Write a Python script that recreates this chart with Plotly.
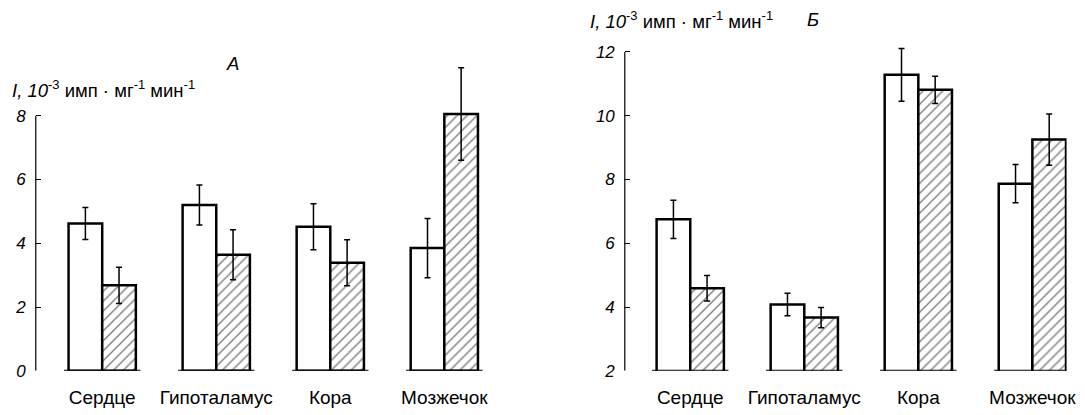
import plotly.graph_objects as go

categories = ["Сердце", "Гипоталамус", "Кора", "Мозжечок"]

# Panel A
a_ctrl = [4.62, 5.20, 4.52, 3.85]
a_ctrl_err = [0.50, 0.63, 0.72, 0.93]
a_exp = [2.68, 3.64, 3.39, 8.05]
a_exp_err = [0.57, 0.78, 0.72, 1.45]

# Panel B
b_ctrl = [6.75, 4.08, 11.28, 7.87]
b_ctrl_err = [0.60, 0.35, 0.83, 0.60]
b_exp = [4.59, 3.67, 10.81, 9.25]
b_exp_err = [0.40, 0.32, 0.43, 0.80]

a_ticks = [0, 2, 4, 6, 8]
b_ticks = [2, 4, 6, 8, 10, 12]

OFF = 8  # page body margin
W, H = 1085 - OFF, 415 - OFF
FONT = "Liberation Sans, Arial, sans-serif"

def px(x):
    return (x - OFF) / W

def py(y):
    return (H - (y - OFF)) / H

fig = go.Figure()

def add_pair(ctrl, ctrl_err, exp, exp_err, xa, ya):
    fig.add_trace(go.Bar(
        x=categories, y=ctrl, xaxis=xa, yaxis=ya,
        marker=dict(color="white", line=dict(color="black", width=2.5)),
        error_y=dict(type="data", array=ctrl_err, color="black", thickness=1.5, width=3),
        showlegend=False,
    ))
    fig.add_trace(go.Bar(
        x=categories, y=exp, xaxis=xa, yaxis=ya,
        marker=dict(color="white", line=dict(color="black", width=2.5),
                    pattern=dict(shape="/", fgcolor="black", bgcolor="white", size=7, solidity=0.2)),
        error_y=dict(type="data", array=exp_err, color="black", thickness=1.5, width=3),
        showlegend=False,
    ))

add_pair(a_ctrl, a_ctrl_err, a_exp, a_exp_err, "x", "y")
add_pair(b_ctrl, b_ctrl_err, b_exp, b_exp_err, "x2", "y2")

bargap = 0.41
y0px, ppu = 380, 32.7

def ydom(lo, hi):
    return [py(y0px), py(y0px - (hi - lo) * ppu)]

a_range = [0, 10]
b_range = [2, 12.6]
spacing = 115
a_left, b_left = 36, 630
a_c0, b_c0 = 103, 696
a_x_range = [-(a_c0 - a_left) / spacing, 3.37]
b_x_range = [-(b_c0 - b_left) / spacing, 3.3]
a_right = a_c0 + a_x_range[1] * spacing
b_right = b_c0 + b_x_range[1] * spacing

xaxis_common = dict(type="category", showline=False, showgrid=False, zeroline=False,
                    ticks="", tickfont=dict(family=FONT, size=19, color="black"),
                    ticklabelstandoff=13, fixedrange=True)
yaxis_common = dict(showline=False, showgrid=False, zeroline=False, ticks="inside",
                    ticklen=5, tickwidth=1, tickcolor="black",
                    tickfont=dict(family=FONT, size=17, color="black", style="italic"),
                    ticklabelstandoff=9)

fig.update_layout(
    width=W, height=H, margin=dict(l=0, r=0, t=0, b=0),
    paper_bgcolor="white", plot_bgcolor="white",
    barmode="group", bargap=bargap, bargroupgap=0,
    xaxis=dict(xaxis_common, domain=[px(a_left), px(a_right)], range=a_x_range, anchor="y"),
    yaxis=dict(yaxis_common, domain=ydom(*a_range), range=a_range,
               tickvals=a_ticks, ticktext=[str(t) for t in a_ticks], anchor="x"),
    xaxis2=dict(xaxis_common, domain=[px(b_left), px(b_right)], range=b_x_range, anchor="y2"),
    yaxis2=dict(yaxis_common, domain=ydom(*b_range), range=b_range,
                tickvals=b_ticks, ticktext=[str(t) for t in b_ticks], anchor="x2"),
)

# axis lines limited to the tick span, and baseline segments under each group
for xr, yr, ticks in (("x", "y", a_ticks), ("x2", "y2", b_ticks)):
    fig.add_shape(type="line", xref=f"{xr} domain", yref=yr, x0=0, x1=0,
                  y0=ticks[0], y1=ticks[-1], line=dict(color="black", width=1.2))
    half = (1 - bargap) / 2 + 0.04
    for i in range(len(categories)):
        fig.add_shape(type="line", xref=xr, yref=yr, x0=i - half, x1=i + half,
                      y0=ticks[0], y1=ticks[0], line=dict(color="black", width=2))

label = "<i>I, 10</i><sup>-3</sup> имп · мг<sup>-1</sup> мин<sup>-1</sup>"
for x, y, txt, anchor in ((10, 91, label, "left"), (234, 65, "<i>А</i>", "center"),
                          (593, 20, label, "left"), (820, 20, "<i>Б</i>", "center")):
    fig.add_annotation(x=px(x), y=py(y), xref="paper", yref="paper", text=txt,
                       showarrow=False, xanchor=anchor, yanchor="middle",
                       font=dict(family=FONT, size=18.5, color="black"))

fig.write_html("out.html")
